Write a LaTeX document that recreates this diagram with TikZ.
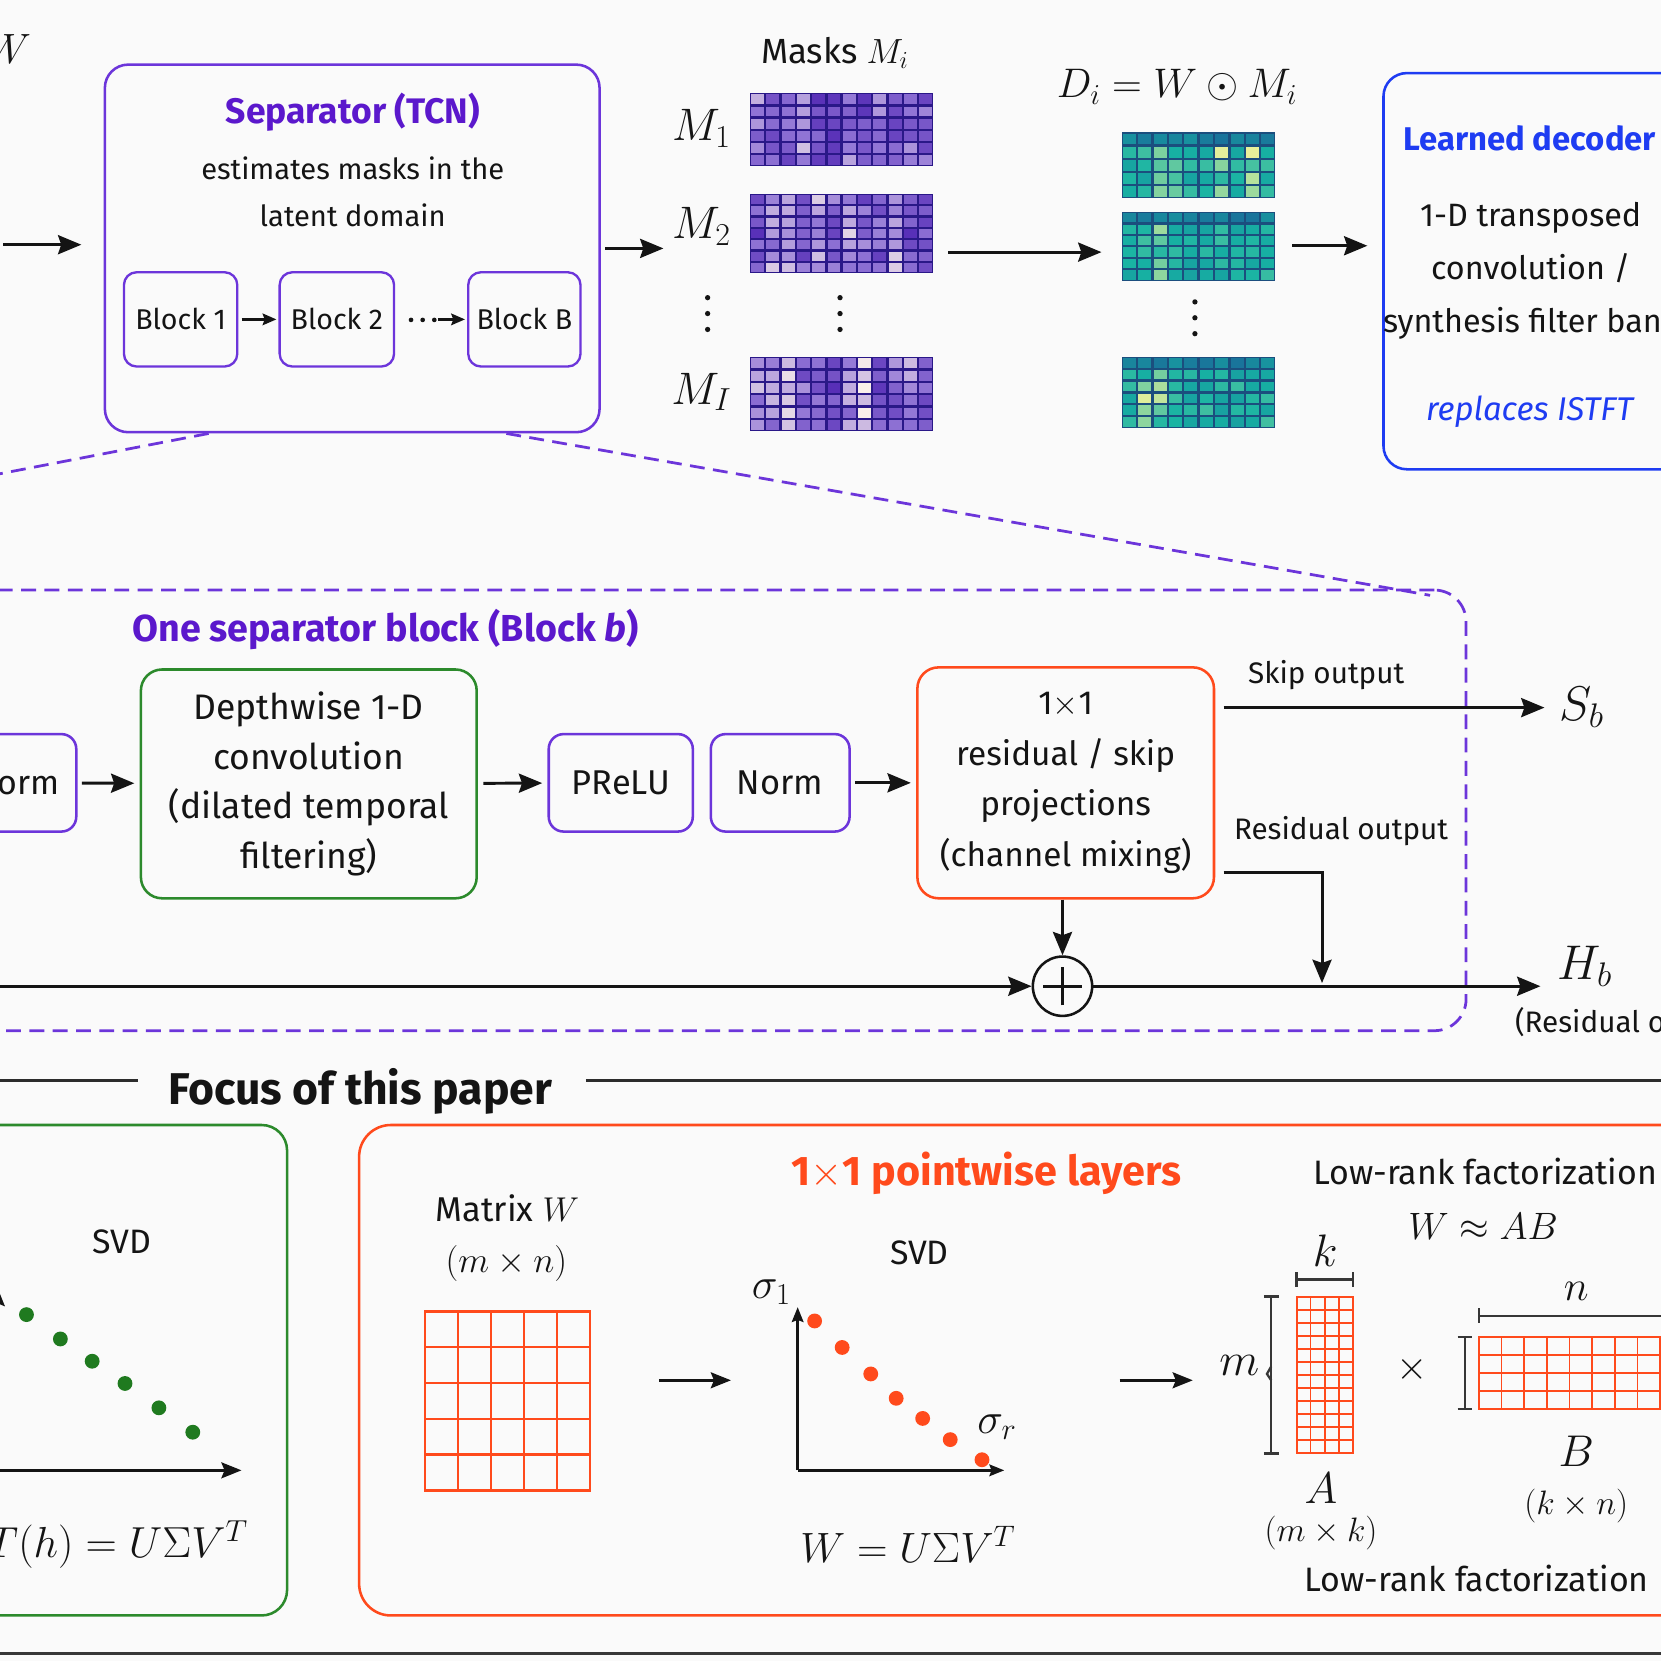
\RequirePackage{fix-cm}
\documentclass[tikz,border=0pt]{standalone}
\usepackage[no-math]{fontspec}
\setmainfont{Fira Sans}
\usetikzlibrary{arrows.meta,calc,fit}
\definecolor{bg}{HTML}{FAFAFA}
\definecolor{purp}{HTML}{6C35DA}
\definecolor{purpT}{HTML}{5B18CC}
\definecolor{dblue}{HTML}{1E3CF2}
\definecolor{grn}{HTML}{2C8A2C}
\definecolor{grnD}{HTML}{1F7A1F}
\definecolor{org}{HTML}{FF4A1C}
\definecolor{ink}{HTML}{141414}
\definecolor{pLo}{HTML}{4A1FB0}
\definecolor{pMid}{HTML}{9276D6}
\definecolor{pHi}{HTML}{FAF0EA}
\definecolor{pEdge}{HTML}{2A1888}
\definecolor{tLo}{HTML}{1A5F98}
\definecolor{tMid}{HTML}{17B3A3}
\definecolor{tHi}{HTML}{EEF29A}
\definecolor{tEdge}{HTML}{1B4E7E}
\newcommand\fsz[2]{\fontsize{#1}{#2}\selectfont}
\newcommand\heatcell[6]{%
  \pgfmathtruncatemacro\pone{min(100,200*#5)}%
  \pgfmathtruncatemacro\ptwo{max(0,200*#5-100)}%
  \colorlet{hcA}{#6Mid!\pone!#6Lo}%
  \colorlet{hcB}{#6Hi!\ptwo!hcA}%
  \fill[hcB] ({#1+1.1},{#2+1.1}) rectangle ({#1+#3-1.1},{#2+#4-1.1});%
}
\newcommand\pheat[8]{% x0 y0 x1 y1 cols rows seed name
  \pgfmathsetseed{#7}%
  \fill[pEdge] (#1,#2) rectangle (#3,#4);%
  \pgfmathsetmacro\cw{(#3-#1)/#5}%
  \pgfmathsetmacro\ch{(#4-#2)/#6}%
  \foreach \ci in {1,...,#5}{%
    \pgfmathsetmacro\cf{rnd}%
    \foreach \ri in {1,...,#6}{%
      \pgfmathsetmacro\vv{min(1,max(0,0.08+0.6*\cf*\cf+0.42*rnd))}%
      \pgfmathsetmacro\xx{#1+(\ci-1)*\cw}%
      \pgfmathsetmacro\yy{#2+(\ri-1)*\ch}%
      \heatcell{\xx}{\yy}{\cw}{\ch}{\vv}{p}%
    }%
  }%
  \coordinate (#8a) at (#1,#2); \coordinate (#8b) at (#3,#4);
  \node[fit=(#8a)(#8b), inner sep=0pt] (#8) {};
}
\newcommand\theat[8]{%
  \pgfmathsetseed{#7}%
  \fill[tEdge] (#1,#2) rectangle (#3,#4);%
  \pgfmathsetmacro\cw{(#3-#1)/#5}%
  \pgfmathsetmacro\ch{(#4-#2)/#6}%
  \foreach \ci in {1,...,#5}{%
    \pgfmathsetmacro\cf{rnd}%
    \foreach \ri in {1,...,#6}{%
      \pgfmathsetmacro\vv{\ri==1 ? 0.12+0.2*rnd : min(1,0.4+0.2*rnd+(\cf>0.7)*0.4*rnd)}%
      \pgfmathsetmacro\xx{#1+(\ci-1)*\cw}%
      \pgfmathsetmacro\yy{#2+(\ri-1)*\ch}%
      \heatcell{\xx}{\yy}{\cw}{\ch}{\vv}{t}%
    }%
  }%
  \coordinate (#8a) at (#1,#2); \coordinate (#8b) at (#3,#4);
  \node[fit=(#8a)(#8b), inner sep=0pt] (#8) {};
}
\tikzset{
  arr/.style={line width=2.8pt, draw=ink, -{Stealth[length=22pt,width=18pt,inset=3pt]}},
  arrS/.style={line width=2.2pt, draw=ink, -{Stealth[length=13pt,width=11pt,inset=2pt]}},
  arrM/.style={line width=2.6pt, draw=ink, -{Stealth[length=19pt,width=15pt,inset=3pt]}},
  box/.style={draw, line width=2.4pt, rounded corners=14pt, inner sep=0pt, align=center, text=ink},
  txt/.style={inner sep=0pt, align=center, text=ink},
  zoomln/.style={draw=purp, line width=2.6pt, dash pattern=on 14pt off 8pt},
  gridln/.style={draw=org, line width=2.2pt},
  brk/.style={draw=ink!85, line width=2.2pt},
  dotg/.style={fill=grnD},
  doto/.style={fill=org},
}
\begin{document}
\begin{tikzpicture}[x=1pt,y=-1pt]
\useasboundingbox (0,0) rectangle (1568,1568);
\clip (0,0) rectangle (1568,1568);
\fill[bg] (0,0) rectangle (1568,1568);

% ---------------- top row ----------------
\node[txt, font={\fsz{40}{40}}] (Win) at (8,46) {$W$};
\coordinate (inS) at (3,231);
\node[box, draw=purp, rounded corners=22pt, minimum width=467pt, minimum height=347pt] (sep) at (332.5,234.5) {};
\node[txt, text=purpT, font={\bfseries\fsz{33.5}{38}}] (sepT) at (333,106) {Separator (TCN)};
\node[txt, font={\fsz{27.5}{44}}] (sepD) at (333,181) {estimates masks in the\\latent domain};
\node[box, draw=purp, rounded corners=12pt, line width=2.2pt, minimum width=107pt, minimum height=89pt, font={\fsz{27}{30}}] (b1) at (170.5,301.5) {Block 1};
\node[box, draw=purp, rounded corners=12pt, line width=2.2pt, minimum width=108pt, minimum height=89pt, font={\fsz{27}{30}}] (b2) at (318,301.5) {Block 2};
\node[box, draw=purp, rounded corners=12pt, line width=2.2pt, minimum width=106pt, minimum height=89pt, font={\fsz{27}{30}}] (bB) at (495,301.5) {Block B};
\draw[arrS, shorten <=3pt, shorten >=2pt] (b1) -- (b2);
\foreach \x in {388,399,410} \fill[ink] (\x,302) circle (2.2pt);
\coordinate (dotE) at (413,301.5);
\draw[arrS, shorten >=2pt] (dotE) -- (bB);
\draw[arr, shorten >=21pt] (inS) -- (inS -| sep.west);

\node[txt, font={\fsz{33}{36}}] (masksT) at (788,50) {Masks $M_i$};
\node[txt, font={\fsz{43}{44}}] (M1) at (662,121) {$M_1$};
\node[txt, font={\fsz{43}{44}}] (M2) at (662,214) {$M_2$};
\node[txt, font={\fsz{43}{44}}] (MI) at (662,370) {$M_I$};
\foreach \y in {281,296,311} {\fill[ink] (668,\y) circle (2.5pt); \fill[ink] (793,\y) circle (2.5pt); \fill[ink] (1128,\y+4) circle (2.5pt);}
\pheat{708}{88}{881}{157}{12}{6}{11}{M1map}
\pheat{708}{183}{881}{258}{12}{7}{23}{M2map}
\pheat{708}{337}{881}{407}{12}{6}{37}{MImap}
\draw[arr, shorten <=4pt, shorten >=8pt] (sep.east) -- (sep.east -| M2.west);

\node[txt, font={\fsz{39}{40}}] (Deq) at (1111,82) {$D_i = W \odot M_i$};
\theat{1059}{125}{1204}{187}{10}{5}{5}{D1map}
\theat{1059}{200}{1204}{265}{10}{6}{8}{D2map}
\theat{1059}{337}{1204}{404}{10}{6}{13}{DImap}
\coordinate (mdS) at (895,238);
\draw[arr, shorten >=19pt] (mdS) -- (mdS -| D2map.west);

\node[box, draw=dblue, rounded corners=22pt, minimum width=300pt, minimum height=374pt] (dec) at (1456,256) {};
\node[txt, text=dblue, font={\bfseries\fsz{31}{36}}] (decT) at (1444,131) {Learned decoder};
\node[txt, font={\fsz{30.5}{50}}] (decD) at (1445,256) {1-D transposed\\convolution /\\synthesis filter bank};
\node[txt, text=dblue, font={\itshape\fsz{31}{36}}] (decR) at (1444,389) {replaces ISTFT};
\coordinate (ddS) at (1220,232);
\draw[arr, shorten >=14pt] (ddS) -- (ddS -| dec.west);

% ---------------- zoom lines and block ----------------
\coordinate (zL) at (-30,453);
\coordinate (zR) at (1350,562);
\draw[zoomln] ([xshift=-135.5pt]sep.south) -- (zL);
\draw[zoomln] ([xshift=145.5pt]sep.south) -- (zR);
\node[draw=purp, line width=2.6pt, dash pattern=on 14pt off 8pt, rounded corners=30pt, minimum width=1444pt, minimum height=416pt, inner sep=0pt] (blk) at (662,765) {};
\node[txt, text=purpT, font={\bfseries\fsz{35.5}{38}}] (blkT) at (364,594) {One separator block (Block \textit{b})};

\node[box, draw=purp, minimum width=112pt, minimum height=92pt, font={\fsz{32}{36}}] (n1) at (16,739) {Norm};
\node[box, draw=grn, rounded corners=20pt, minimum width=317pt, minimum height=216pt, font={\fsz{33.5}{47}}] (dw) at (291.5,740) {Depthwise 1-D\\convolution\\(dilated temporal\\filtering)};
\node[box, draw=purp, minimum width=136pt, minimum height=92pt, font={\fsz{32.5}{36}}] (prelu) at (586,739) {PReLU};
\node[box, draw=purp, minimum width=131pt, minimum height=92pt, font={\fsz{32.5}{36}}] (n2) at (736.5,739) {Norm};
\node[box, draw=org, rounded corners=20pt, minimum width=280pt, minimum height=218pt, font={\fsz{31.5}{48}}] (proj) at (1006,739) {1$\times$1\\residual / skip\\projections\\(channel mixing)};
\draw[arr, shorten <=4pt, shorten >=5pt] (n1) -- (dw);
\draw[arr, shorten <=5pt, shorten >=5pt] (dw) -- (prelu);
\draw[arr, shorten <=4pt, shorten >=5pt] (n2) -- (proj);

\node[circle, draw=ink, line width=2.4pt, minimum size=56pt, inner sep=0pt] (plus) at (1003,931) {};
\draw[ink, line width=2.4pt] ([xshift=-18pt]plus.center) -- ([xshift=18pt]plus.center);
\draw[ink, line width=2.4pt] ([yshift=-18pt]plus.center) -- ([yshift=18pt]plus.center);
\draw[arr] (plus |- proj.south) -- (plus.north);
\coordinate (hin) at (-10,931);
\draw[arr] (hin) -- (plus.west);

\node[txt, font={\fsz{46}{46}}] (Sb) at (1493,668) {$S_b$};
\node[txt, font={\fsz{46}{46}}] (Hb) at (1496,912) {$H_b$};
\node[txt, font={\fsz{28}{32}}] (skipL) at (1252,637) {Skip output};
\node[txt, font={\fsz{28}{32}}] (resL) at (1266,785) {Residual output};
\node[txt, anchor=west, font={\fsz{28}{32}}] (hbN) at (1430,966) {(Residual output)};
\coordinate (skS) at (1155,668);
\draw[arr, shorten >=14pt] (skS) -- (skS -| Sb.west);
\coordinate (rsS) at (1155,824);
\coordinate (rsE) at (1248,928);
\draw[arr] (rsS) -| (rsE);
\draw[arr, shorten >=16pt] (plus.east) -- (plus.east -| Hb.west);

% ---------------- focus ----------------
\node[txt, font={\bfseries\fsz{42}{46}}] (focus) at (340,1030) {Focus of this paper};
\coordinate (fA) at (-10,1020); \coordinate (fB) at (130,1020);
\coordinate (fC) at (553,1020); \coordinate (fD) at (1600,1020);
\draw[ink!90, line width=2.4pt] (fA) -- (fB);
\draw[ink!90, line width=2.4pt] (fC) -- (fD);

% ---------------- green panel ----------------
\node[box, draw=grn, rounded corners=24pt, minimum width=301pt, minimum height=463pt] (gbox) at (120.5,1293.5) {};
\node[txt, font={\fsz{32}{36}}] (gsvd) at (115,1172) {SVD};
\foreach \x/\y in {25/1241,57/1264,87/1285,118/1306,150/1329,182/1352} \fill[dotg] (\x,\y) circle (7pt);
\coordinate (gO) at (-3,1388); \coordinate (gX) at (228,1388); \coordinate (gY) at (-3,1214);
\draw[arrM] (gO) -- (gX);
\draw[arrM] (gO) -- (gY);
\node[txt, anchor=east, font={\fsz{41}{42}}] (geq) at (234,1458) {$T(h) = U\Sigma V^T$};

% ---------------- orange panel ----------------
\node[box, draw=org, rounded corners=30pt, minimum width=1270pt, minimum height=463pt] (obox) at (974,1293.5) {};
\node[txt, text=org, font={\bfseries\fsz{39}{42}}] (oT) at (931,1108) {1$\times$1 pointwise layers};
\node[txt, font={\fsz{32.5}{36}}] (mwT) at (479,1141) {Matrix $W$};
\node[txt, font={\fsz{34}{36}}] (mwD) at (478,1193) {$(m\times n)$};
\draw[gridln] (401,1238) rectangle (557,1407);
\foreach \i in {1,...,4} {\draw[gridln] ({401+\i*31.2},1238) -- ({401+\i*31.2},1407); \draw[gridln] (401,{1238+\i*33.8}) -- (557,{1238+\i*33.8});}
\coordinate (wgA) at (401,1238); \coordinate (wgB) at (557,1407);
\node[fit=(wgA)(wgB), inner sep=0pt] (wgrid) {};
\coordinate (a1S) at (622,1303);
\draw[arrM, shorten >=8pt] (a1S) -- (a1S -| 698,0);

\node[txt, font={\fsz{32}{36}}] (osvd) at (868,1183) {SVD};
\coordinate (oO) at (753,1388); \coordinate (oX) at (948,1388); \coordinate (oY) at (753,1234);
\draw[line width=2.4pt, ink, -{Stealth[length=14pt,width=11pt,inset=2pt]}] (oO) -- (oX);
\draw[line width=2.4pt, ink, -{Stealth[length=14pt,width=11pt,inset=2pt]}] (oO) -- (oY);
\foreach \x/\y in {769/1247,795/1272,822/1297,846/1320,871/1339,897/1359,927/1378} \fill[doto] (\x,\y) circle (7pt);
\node[txt, font={\fsz{41}{42}}] (s1) at (728,1220) {$\sigma_1$};
\node[txt, font={\fsz{41}{42}}] (sr) at (941,1347) {$\sigma_r$};
\node[txt, font={\fsz{40}{40}}] (oeq) at (857,1458) {$W = U\Sigma V^T$};
\coordinate (a2S) at (1057,1303);
\draw[arrM, shorten >=6pt] (a2S) -- (a2S -| 1132,0);

\node[txt, font={\fsz{32}{36}}] (lrT) at (1402,1106) {Low-rank factorization};
\node[txt, font={\fsz{36}{40}}] (wab) at (1400,1158) {$W \approx AB$};
% A
\draw[org, line width=1.8pt] (1224,1224) rectangle (1277,1372);
\foreach \i in {1,2,3} \draw[org, line width=1.6pt] ({1224+\i*13.25},1224) -- ({1224+\i*13.25},1372);
\foreach \i in {1,...,11} \draw[org, line width=1.6pt] (1224,{1224+\i*12.33}) -- (1277,{1224+\i*12.33});
\coordinate (AgA) at (1224,1224); \coordinate (AgB) at (1277,1372);
\node[fit=(AgA)(AgB), inner sep=0pt] (Agrid) {};
% B
\draw[org, line width=1.8pt] (1396,1262) rectangle (1620,1330);
\foreach \i in {1,...,10} \draw[org, line width=1.6pt] ({1396+\i*21.4},1262) -- ({1396+\i*21.4},1330);
\foreach \i in {1,2,3} \draw[org, line width=1.6pt] (1396,{1262+\i*17}) -- (1620,{1262+\i*17});
\coordinate (BgA) at (1396,1262); \coordinate (BgB) at (1620,1330);
\node[fit=(BgA)(BgB), inner sep=0pt] (Bgrid) {};
% brackets
\draw[brk] (1200,1224) -- (1200,1372);
\draw[brk] (1193,1224) -- (1207,1224);
\draw[brk] (1193,1372) -- (1207,1372);
\draw[brk] (1200,1290) -- (1196,1297) -- (1200,1303);
\draw[brk] (1224,1208) -- (1277,1208);
\draw[brk] (1224,1201) -- (1224,1215);
\draw[brk] (1277,1201) -- (1277,1215);
\draw[brk] (1396,1242) -- (1620,1242);
\draw[brk] (1396,1235) -- (1396,1249);
\draw[brk] (1383,1262) -- (1383,1330);
\draw[brk] (1376,1262) -- (1390,1262);
\draw[brk] (1376,1330) -- (1390,1330);
\node[txt, font={\fsz{43}{44}}] (kL) at (1251,1181) {$k$};
\node[txt, font={\fsz{44}{44}}] (mL) at (1170,1289) {$m$};
\node[txt, font={\fsz{40}{40}}] (nL) at (1488,1219) {$n$};
\node[txt, font={\fsz{42}{42}}] (AL) at (1247,1405) {$A$};
\node[txt, font={\fsz{32}{36}}] (AD) at (1247,1447) {$(m\times k)$};
\node[txt, font={\fsz{38}{40}}] (xL) at (1333,1293) {$\times$};
\node[txt, font={\fsz{42}{42}}] (BL) at (1488,1370) {$B$};
\node[txt, font={\fsz{32}{36}}] (BD) at (1488,1422) {$(k\times n)$};
\node[txt, font={\fsz{32}{36}}] (lrB) at (1394,1490) {Low-rank factorization};

% bottom rule
\coordinate (rA) at (-10,1561); \coordinate (rB) at (1600,1561);
\draw[ink!85, line width=3pt] (rA) -- (rB);
\end{tikzpicture}
\end{document}
